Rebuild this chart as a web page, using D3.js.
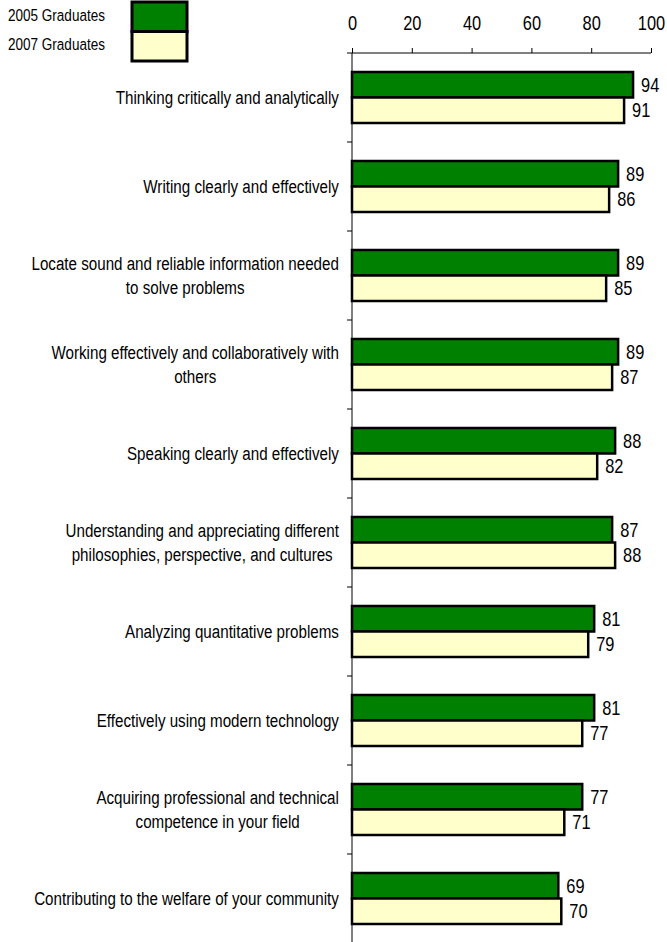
<!DOCTYPE html>
<html><head><meta charset="utf-8">
<script src="https://cdn.jsdelivr.net/npm/d3@7/dist/d3.min.js"></script>
<style>body{margin:0;background:#fff}svg{display:block}text{font-family:"Liberation Sans",Arial,sans-serif;fill:#000}</style>
</head><body><svg id="c" width="667" height="942"></svg>
<script>
const categories = [
  ["Thinking critically and analytically"],
  ["Writing clearly and effectively"],
  ["Locate sound and reliable information needed","to solve problems"],
  ["Working effectively and collaboratively with","others"],
  ["Speaking clearly and effectively"],
  ["Understanding and appreciating different","philosophies, perspective, and cultures"],
  ["Analyzing quantitative problems"],
  ["Effectively using modern technology"],
  ["Acquiring professional and technical","competence in your field"],
  ["Contributing to the welfare of your community"]
];
const series = ["2005 Graduates","2007 Graduates"];
const values2005 = [94,89,89,89,88,87,81,81,77,69];
const values2007 = [91,86,85,87,82,88,79,77,71,70];
const xTicks = [0,20,40,60,80,100];
const colors = ["#008000","#FFFFCC"];

const NARROW = 0.82;
const svg = d3.select("#c");
const x = d3.scaleLinear().domain([0,100]).range([352,651]);
const y = d3.scaleBand().domain(d3.range(categories.length)).range([53,943]);
const inner = d3.scaleBand().domain([0,1]).range([0,51]);
const groupOff = (y.bandwidth()-51)/2;

// top axis
const xa = svg.append("g").attr("transform","translate(0,53)")
  .call(d3.axisTop(x).tickValues(xTicks).tickSize(5).tickPadding(18).tickSizeOuter(0));
xa.select(".domain").attr("d","M347,0H651").attr("stroke","#000");
xa.selectAll("text").attr("font-size",20).attr("fill","#000").attr("font-family","Liberation Sans, Arial, sans-serif")
  .attr("transform",`scale(${NARROW},1)`);
xa.selectAll(".tick line").attr("stroke","#000");

// left axis line with ticks at band boundaries
svg.append("line").attr("x1",352).attr("x2",352).attr("y1",53).attr("y2",942).attr("stroke","#000");
svg.selectAll(".btick").data(d3.range(1,categories.length)).join("line")
  .attr("x1",347).attr("x2",352).attr("y1",i=>y(i)).attr("y2",i=>y(i)).attr("stroke","#000");

const data = categories.map((c,i)=>({c,i,v:[values2005[i],values2007[i]]}));
const g = svg.selectAll(".grp").data(data).join("g").attr("transform",d=>`translate(0,${y(d.i)+groupOff})`);
g.selectAll("rect").data(d=>d.v.map((v,k)=>({v,k}))).join("rect")
  .attr("x",x(0)).attr("y",d=>inner(d.k)).attr("width",d=>x(d.v)-x(0)).attr("height",inner.bandwidth())
  .attr("fill",d=>colors[d.k]).attr("stroke","#000").attr("stroke-width",2.5);
g.selectAll(".val").data(d=>d.v.map((v,k)=>({v,k}))).join("text")
  .attr("transform",d=>`translate(${x(d.v)+8},${inner(d.k)+inner.bandwidth()/2}) scale(${NARROW},1)`)
  .attr("dy","0.36em").attr("font-size",20).text(d=>d.v);

// category labels
const LFS = 18;
const probe = svg.append("text").attr("font-size",LFS).text("Contributing to the welfare of your community");
const sx = 305/probe.node().getComputedTextLength();
probe.remove();
data.forEach(d=>{
  const cy = y(d.i)+y.bandwidth()/2;
  const t = svg.append("text").attr("font-size",LFS).attr("text-anchor","middle").attr("fill","#111");
  const n = d.c.length;
  d.c.forEach((line,j)=>{
    t.append("tspan").attr("x",0).attr("y",(j-(n-1)/2)*24).attr("dy","0.36em").text(line);
  });
  let w=0; t.selectAll("tspan").each(function(){w=Math.max(w,this.getComputedTextLength());});
  t.attr("transform",`translate(${339-w*sx/2},${cy}) scale(${sx},1)`);
});

// legend
const lg = svg.append("g");
series.forEach((s,k)=>{
  lg.append("rect").attr("x",132).attr("y",2+k*29.5).attr("width",55).attr("height",29.5)
    .attr("fill",colors[k]).attr("stroke","#000").attr("stroke-width",3);
  lg.append("text").attr("transform",`translate(8,${15+k*29}) scale(${NARROW},1)`)
    .attr("dy","0.36em").attr("font-size",16.5).text(s);
});
</script></body></html>
